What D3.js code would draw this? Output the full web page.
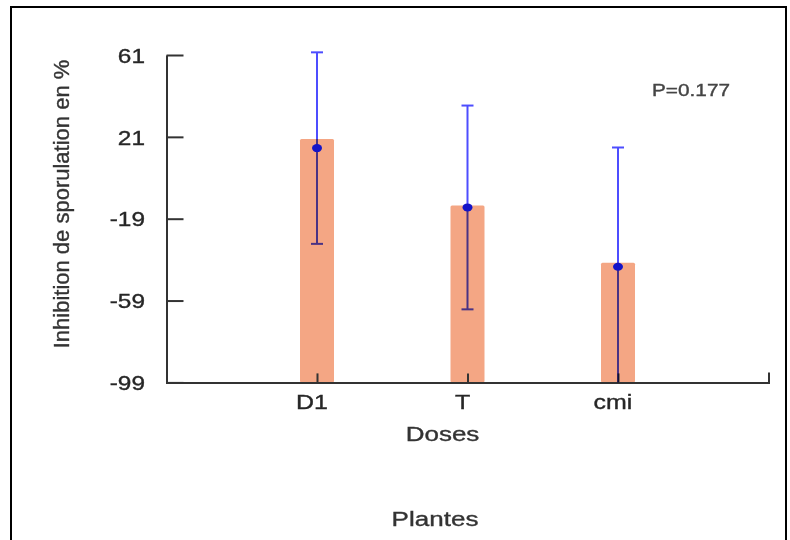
<!DOCTYPE html>
<html>
<head>
<meta charset="utf-8">
<script src="https://cdn.jsdelivr.net/npm/d3@7"></script>
<style>
  body { margin: 0; background: #fff; }
  svg { display: block; }
</style>
</head>
<body>
<svg id="chart" width="790" height="540"></svg>
<script>
// Inhibition of sporulation by dose: bar = value, dot = mean, whisker = ± error
const categories = ["D1", "T", "cmi"];
const barValues = [20, -12.5, -40.5];
const meanValues = [15.5, -13.5, -42.5];
const errorValues = [46.8, 49.8, 58.3];
const yTickValues = [-99, -59, -19, 21, 61];
const pValueLabel = "P=0.177";
const xTitle = "Doses";
const groupTitle = "Plantes";
const yTitle = "Inhibition de sporulation en %";

const FONT = "'Liberation Sans', Arial, Helvetica, sans-serif";
const TEXT_COLOR = "#262626";
const AXIS_COLOR = "#333";

const svg = d3.select("#chart");

// slightly heavier strokes on the text
function heavy(sel, color) {
  return sel.attr("stroke", color).attr("stroke-width", 0.35).attr("paint-order", "stroke");
}

// outer frame
svg.append("rect")
  .attr("x", 11).attr("y", 7)
  .attr("width", 775).attr("height", 560)
  .attr("fill", "none").attr("stroke", "#000").attr("stroke-width", 2);

const plotLeft = 166.5, plotRight = 768.5, plotTop = 55, plotBottom = 382.4;
const yMin = yTickValues[0], yMax = yTickValues[yTickValues.length - 1];

const y = d3.scaleLinear().domain([yMin, yMax]).range([plotBottom, plotTop]);
const x = d3.scalePoint().domain(categories).range([plotLeft, plotRight]).padding(1);

const rows = categories.map((c, i) => ({
  cat: c, bar: barValues[i], mean: meanValues[i], err: errorValues[i]
}));

// bars
const barW = 34;
svg.append("g").selectAll("rect")
  .data(rows).join("rect")
  .attr("x", d => x(d.cat) - barW / 2)
  .attr("y", d => y(d.bar))
  .attr("width", barW)
  .attr("height", d => y(yMin) - y(d.bar))
  .attr("rx", 1.5)
  .attr("fill", "#F4A684");

// y axis: inward ticks, labels drawn wide, plain hyphen for negatives
const yAxis = d3.axisLeft(y).tickValues(yTickValues).tickSize(-17).tickSizeOuter(0)
  .tickFormat(d => String(d));
const gy = svg.append("g").attr("transform", `translate(${plotLeft},0)`).call(yAxis);
gy.select(".domain").attr("stroke", AXIS_COLOR).attr("stroke-width", 2);
gy.selectAll(".tick line").attr("stroke", AXIS_COLOR).attr("stroke-width", 2);
heavy(gy.selectAll(".tick text"), TEXT_COLOR)
  .attr("x", -21.5 / 1.22).attr("dy", "0.36em")
  .attr("transform", "scale(1.22,1)")
  .attr("font-family", FONT).attr("font-size", 20)
  .attr("fill", TEXT_COLOR);

// x axis: short inward ticks, closing tick at the right end
const xAxis = d3.axisBottom(x).tickSize(-9).tickSizeOuter(-10);
const gx = svg.append("g").attr("transform", `translate(0,${plotBottom})`).call(xAxis);
gx.select(".domain").attr("stroke", AXIS_COLOR).attr("stroke-width", 2);
gx.selectAll(".tick line").attr("stroke", AXIS_COLOR).attr("stroke-width", 2);
gx.selectAll(".tick text").remove();

// category labels below the axis
heavy(svg.append("g").selectAll("text")
  .data(categories).join("text"), TEXT_COLOR)
  .attr("transform", d => `translate(${x(d) - 5},${plotBottom + 27}) scale(1.28,1)`)
  .attr("text-anchor", "middle")
  .attr("font-family", FONT).attr("font-size", 19.5)
  .attr("fill", TEXT_COLOR)
  .text(d => d);

// error bars (multiplied so they darken over the bars)
const capW = 6;
const eg = svg.append("g")
  .attr("stroke", "#4d4dff").attr("stroke-width", 2)
  .style("mix-blend-mode", "multiply");
rows.forEach(d => {
  const hi = Math.min(d.mean + d.err, yMax + 2);
  const loRaw = d.mean - d.err;
  const lo = Math.max(loRaw, yMin);
  eg.append("line").attr("x1", x(d.cat)).attr("x2", x(d.cat)).attr("y1", y(hi)).attr("y2", y(lo));
  eg.append("line").attr("x1", x(d.cat) - capW).attr("x2", x(d.cat) + capW).attr("y1", y(hi)).attr("y2", y(hi));
  if (loRaw > yMin) {
    eg.append("line").attr("x1", x(d.cat) - capW).attr("x2", x(d.cat) + capW).attr("y1", y(lo)).attr("y2", y(lo));
  }
});

// mean markers
svg.append("g").selectAll("ellipse")
  .data(rows).join("ellipse")
  .attr("cx", d => x(d.cat))
  .attr("cy", d => y(d.mean))
  .attr("rx", 5).attr("ry", 4)
  .attr("fill", "#1414c8");

// titles
heavy(svg.append("text"), "#333")
  .attr("transform", "translate(69,204) rotate(-90)")
  .attr("text-anchor", "middle")
  .attr("font-family", FONT).attr("font-size", 22)
  .attr("fill", "#333")
  .text(yTitle);

heavy(svg.append("text"), "#333")
  .attr("transform", "translate(442.5,441) scale(1.3,1)")
  .attr("text-anchor", "middle")
  .attr("font-family", FONT).attr("font-size", 20)
  .attr("fill", "#333")
  .text(xTitle);

heavy(svg.append("text"), "#333")
  .attr("transform", "translate(435,526) scale(1.24,1)")
  .attr("text-anchor", "middle")
  .attr("font-family", FONT).attr("font-size", 21)
  .attr("fill", "#333")
  .text(groupTitle);

heavy(svg.append("text"), "#444")
  .attr("transform", "translate(652,96) scale(1.3,1)")
  .attr("font-family", FONT).attr("font-size", 16)
  .attr("fill", "#444")
  .text(pValueLabel);
</script>
</body>
</html>
